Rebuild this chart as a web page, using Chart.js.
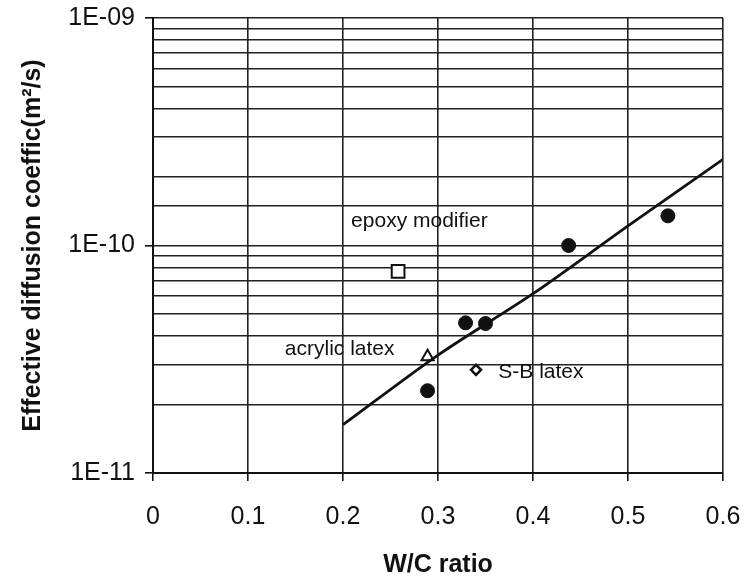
<!DOCTYPE html>
<html>
<head>
<meta charset="utf-8">
<script src="https://cdn.jsdelivr.net/npm/chart.js@4"></script>
<style>
  html, body { margin: 0; padding: 0; background: #fff; }
  #wrap { width: 744px; height: 585px; }
</style>
</head>
<body>
<div id="wrap"><canvas id="grafico"></canvas></div>
<script>
// valores
const wcPlain = [0.289, 0.329, 0.35, 0.4375, 0.542];
const dPlain = [2.30e-11, 4.57e-11, 4.54e-11, 1.0e-10, 1.35e-10];

const wcEpoxy = [0.258];
const dEpoxy = [7.7e-11];

const wcAcrylic = [0.289];
const dAcrylic = [3.24e-11];

const wcSB = [0.34];
const dSB = [2.84e-11];

// linea de ajuste
const wcFit = [0.2, 0.3, 0.4, 0.5, 0.6];
const dFit = [1.63e-11, 3.30e-11, 6.14e-11, 1.22e-10, 2.39e-10];

const xTicks = [0, 0.1, 0.2, 0.3, 0.4, 0.5, 0.6];
const yMajor = [1e-11, 1e-10, 1e-9];
const yMajorLabels = ["1E-11", "1E-10", "1E-09"];

const notes = ["epoxy modifier", "acrylic latex", "S-B latex"];

const pts = (xs, ys) => xs.map((x, i) => ({ x: x, y: ys[i] }));
const isMajor = v => Math.abs(Math.log10(v) - Math.round(Math.log10(v))) < 1e-6;
const majorLabel = v => {
  const i = yMajor.findIndex(m => Math.abs(Math.log10(m) - Math.log10(v)) < 1e-6);
  return i >= 0 ? yMajorLabels[i] : "";
};

const FONT = "'Liberation Sans', Arial, sans-serif";
const INK = "#111";

// textos dentro del grafico
const notasPlugin = {
  id: "notas",
  afterDatasetsDraw(chart, args, opts) {
    const { ctx, scales } = chart;
    ctx.save();
    ctx.font = "21px " + FONT;
    ctx.fillStyle = INK;
    ctx.textBaseline = "middle";
    opts.items.forEach(it => {
      ctx.textAlign = it.align;
      ctx.fillText(it.text, scales.x.getPixelForValue(it.x), scales.y.getPixelForValue(it.y));
    });
    ctx.restore();
  }
};

new Chart(document.getElementById("grafico"), {
  type: "scatter",
  data: {
    datasets: [
      {
        type: "line",
        label: "fit",
        data: pts(wcFit, dFit),
        borderColor: INK,
        borderWidth: 2.8,
        pointRadius: 0,
        tension: 0.3,
        fill: false
      },
      {
        label: "plain",
        data: pts(wcPlain, dPlain),
        pointStyle: "circle",
        pointRadius: 7,
        backgroundColor: INK,
        borderColor: INK,
        borderWidth: 1
      },
      {
        label: notes[0],
        data: pts(wcEpoxy, dEpoxy),
        pointStyle: "rect",
        pointRadius: 9,
        backgroundColor: "#fff",
        borderColor: INK,
        borderWidth: 2
      },
      {
        label: notes[1],
        data: pts(wcAcrylic, dAcrylic),
        pointStyle: "triangle",
        pointRadius: 7,
        backgroundColor: "#fff",
        borderColor: INK,
        borderWidth: 2
      },
      {
        label: notes[2],
        data: pts(wcSB, dSB),
        pointStyle: "rectRot",
        pointRadius: 5,
        backgroundColor: "#fff",
        borderColor: INK,
        borderWidth: 2.5
      }
    ]
  },
  options: {
    responsive: true,
    maintainAspectRatio: false,
    animation: false,
    layout: { padding: { top: 18, right: 21, bottom: 0, left: 0 } },
    plugins: {
      legend: { display: false },
      tooltip: { enabled: false },
      notas: {
        items: [
          { text: notes[0], x: 0.2804, y: 1.28e-10, align: "center" },
          { text: notes[1], x: 0.1965, y: 3.5e-11, align: "center" },
          { text: notes[2], x: 0.3635, y: 2.76e-11, align: "left" }
        ]
      }
    },
    scales: {
      x: {
        type: "linear",
        min: 0,
        max: 0.6,
        afterBuildTicks: s => { s.ticks = xTicks.map(v => ({ value: v })); },
        afterFit: s => {
          s.height = 112;
          s.paddingLeft = 0;
          s.paddingRight = 0;
        },
        ticks: {
          color: INK,
          font: { family: FONT, size: 25 },
          padding: 21,
          maxRotation: 0,
          callback: v => String(v)
        },
        grid: { color: "#222", lineWidth: 1.6, tickLength: 8, tickColor: INK },
        border: { display: true, color: INK, width: 2 },
        title: {
          display: true,
          text: "W/C ratio",
          color: INK,
          font: { family: FONT, size: 25, weight: "bold" },
          padding: { top: 0, bottom: 5 }
        }
      },
      y: {
        type: "logarithmic",
        min: 1e-11,
        max: 1e-9,
        afterFit: s => {
          s.width = 153;
          s.paddingTop = 0;
          s.paddingBottom = 0;
        },
        ticks: {
          color: INK,
          autoSkip: false,
          font: { family: FONT, size: 25 },
          padding: 10,
          callback: v => majorLabel(v)
        },
        grid: {
          color: "#222",
          lineWidth: 1.6,
          tickLength: 8,
          tickColor: c => (c.tick && isMajor(c.tick.value)) ? INK : "rgba(0,0,0,0)"
        },
        border: { display: true, color: INK, width: 2 },
        title: {
          display: true,
          text: "Effective diffusion coeffic(m²/s)",
          color: INK,
          font: { family: FONT, size: 25, weight: "bold" },
          padding: { top: 18, bottom: 0 }
        }
      }
    }
  },
  plugins: [notasPlugin]
});
</script>
</body>
</html>
